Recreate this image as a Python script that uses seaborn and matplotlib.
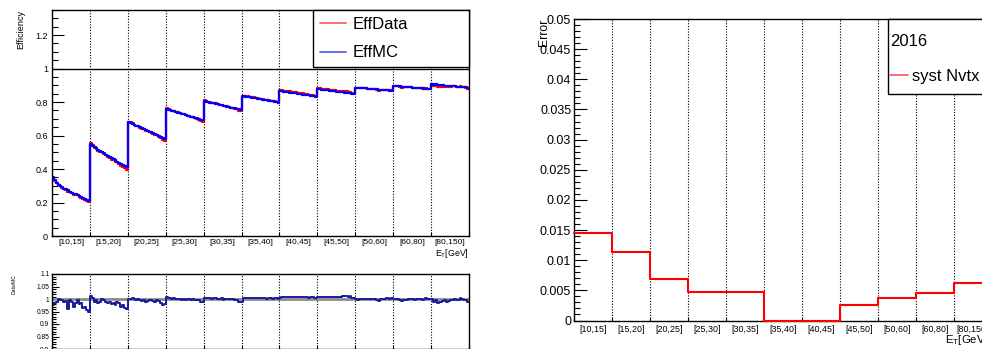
import numpy as np
import pandas as pd
import seaborn as sns
import matplotlib
matplotlib.use('Agg')
import matplotlib.pyplot as plt
from matplotlib.lines import Line2D
from matplotlib.patches import Rectangle
from matplotlib.ticker import MultipleLocator, FixedLocator, FixedFormatter, NullFormatter, FuncFormatter

# ========================================== DATA ==========================================

et_bins = ['[10,15]', '[15,20]', '[20,25]', '[25,30]', '[30,35]', '[35,40]',
           '[40,45]', '[45,50]', '[50,60]', '[60,80]', '[80,150]']

# MC efficiency, 20 eta sub-bins inside each E_T bin
eff_mc = [
    [0.352, 0.335, 0.318, 0.305, 0.298, 0.290, 0.283, 0.278, 0.272, 0.262, 0.258, 0.253, 0.248, 0.243, 0.238, 0.232, 0.226, 0.221, 0.216, 0.211],
    [0.548, 0.540, 0.532, 0.524, 0.516, 0.508, 0.500, 0.493, 0.486, 0.478, 0.471, 0.465, 0.458, 0.451, 0.445, 0.438, 0.432, 0.425, 0.418, 0.412],
    [0.682, 0.677, 0.671, 0.666, 0.660, 0.655, 0.650, 0.645, 0.640, 0.634, 0.629, 0.624, 0.619, 0.614, 0.609, 0.604, 0.598, 0.593, 0.588, 0.582],
    [0.758, 0.754, 0.751, 0.747, 0.744, 0.740, 0.737, 0.733, 0.730, 0.726, 0.723, 0.719, 0.716, 0.712, 0.709, 0.705, 0.702, 0.698, 0.694, 0.690],
    [0.806, 0.803, 0.800, 0.797, 0.795, 0.792, 0.789, 0.787, 0.784, 0.781, 0.778, 0.776, 0.773, 0.770, 0.767, 0.765, 0.762, 0.759, 0.756, 0.752],
    [0.836, 0.834, 0.832, 0.830, 0.828, 0.826, 0.824, 0.822, 0.820, 0.818, 0.816, 0.814, 0.812, 0.810, 0.808, 0.806, 0.804, 0.802, 0.799, 0.796],
    [0.866, 0.864, 0.862, 0.861, 0.859, 0.857, 0.855, 0.854, 0.852, 0.850, 0.848, 0.847, 0.845, 0.843, 0.841, 0.840, 0.838, 0.836, 0.834, 0.832],
    [0.877, 0.876, 0.874, 0.873, 0.871, 0.870, 0.868, 0.867, 0.865, 0.864, 0.862, 0.861, 0.859, 0.858, 0.856, 0.855, 0.853, 0.852, 0.850, 0.848],
    [0.887, 0.886, 0.885, 0.884, 0.883, 0.882, 0.881, 0.880, 0.879, 0.878, 0.877, 0.876, 0.875, 0.874, 0.873, 0.872, 0.871, 0.870, 0.869, 0.868],
    [0.897, 0.896, 0.895, 0.894, 0.893, 0.892, 0.891, 0.890, 0.889, 0.888, 0.887, 0.886, 0.885, 0.884, 0.883, 0.882, 0.881, 0.880, 0.879, 0.877],
    [0.905, 0.904, 0.906, 0.903, 0.902, 0.901, 0.900, 0.899, 0.898, 0.897, 0.896, 0.895, 0.894, 0.893, 0.892, 0.891, 0.890, 0.889, 0.888, 0.887],
]

# Data / MC ratio in the same sub-bins
ratio = [
    [0.975, 0.985, 0.990, 1.000, 0.998, 0.995, 0.990, 0.993, 0.960, 0.995, 0.990, 0.970, 0.985, 0.998, 0.980, 0.985, 0.965, 0.970, 0.955, 0.950],
    [1.012, 1.005, 0.990, 0.995, 0.985, 0.990, 1.000, 0.995, 0.990, 0.985, 0.990, 0.980, 0.985, 0.975, 0.990, 0.985, 0.970, 0.975, 0.965, 0.960],
    [1.000, 1.002, 1.003, 1.000, 0.998, 1.000, 0.995, 0.993, 0.997, 0.990, 0.993, 0.995, 0.998, 0.992, 0.990, 0.995, 0.992, 0.985, 0.975, 0.980],
    [1.007, 1.005, 1.003, 1.002, 1.004, 1.000, 1.002, 1.001, 0.998, 1.000, 0.997, 1.001, 0.999, 0.996, 1.000, 0.998, 0.995, 0.997, 0.990, 0.990],
    [1.005, 1.004, 1.003, 1.005, 1.002, 1.003, 1.004, 1.002, 1.001, 1.003, 0.998, 1.000, 1.002, 1.000, 0.999, 1.001, 0.998, 0.997, 0.990, 0.990],
    [0.990, 1.003, 1.004, 1.005, 1.003, 1.004, 1.006, 1.005, 1.004, 1.003, 1.005, 1.004, 1.003, 1.002, 1.004, 1.003, 1.002, 1.004, 1.003, 1.002],
    [1.006, 1.007, 1.008, 1.007, 1.008, 1.009, 1.008, 1.007, 1.009, 1.008, 1.007, 1.008, 1.009, 1.008, 1.007, 1.006, 1.008, 1.007, 1.006, 1.005],
    [1.007, 1.008, 1.007, 1.009, 1.008, 1.007, 1.008, 1.009, 1.010, 1.008, 1.007, 1.009, 1.010, 1.012, 1.011, 1.013, 1.010, 1.012, 1.006, 1.004],
    [1.000, 0.998, 0.999, 1.000, 1.001, 1.000, 0.999, 1.001, 1.002, 1.001, 1.000, 0.998, 0.992, 1.000, 1.001, 1.002, 1.004, 1.003, 1.002, 1.003],
    [1.002, 1.000, 1.001, 0.995, 0.993, 0.996, 0.997, 0.998, 0.999, 1.000, 0.999, 0.998, 1.002, 0.999, 1.000, 0.998, 1.001, 1.003, 1.002, 1.001],
    [1.002, 0.990, 0.995, 0.985, 0.990, 0.987, 0.992, 0.995, 0.990, 0.993, 0.996, 0.998, 1.000, 0.995, 0.997, 1.003, 1.000, 0.998, 0.995, 0.990],
]

syst_nvtx = [0.0145, 0.0114, 0.0068, 0.0048, 0.0048, 0.0, 0.0, 0.0026, 0.0037, 0.0045, 0.0062]

# ========================================== STYLE ==========================================

sns.set_style('ticks')
plt.rcParams['font.family'] = ['Liberation Sans', 'DejaVu Sans']
plt.rcParams['mathtext.fontset'] = 'custom'
plt.rcParams['mathtext.rm'] = 'Liberation Sans'
plt.rcParams['mathtext.it'] = 'Liberation Sans'
for key in ['text.color', 'axes.labelcolor', 'xtick.color', 'ytick.color', 'axes.edgecolor']:
    plt.rcParams[key] = 'black'
plt.rcParams['axes.linewidth'] = 1.0

W, H = 982, 349
fig = plt.figure(figsize=(W / 100, H / 100), dpi=100)

def px_axes(x0, y0, x1, y1):
    return fig.add_axes([x0 / W, 1 - y1 / H, (x1 - x0) / W, (y1 - y0) / H])

ax_eff = px_axes(52, 10, 469, 236)
ax_ratio = px_axes(52, 274, 469, 349)
ax_syst = px_axes(574, 19, 992, 320.5)

n_bins = len(et_bins)
n_sub = len(eff_mc[0])
root_fmt = FuncFormatter(lambda v, p: f'{round(v, 5):g}')

def bin_axis(ax, label_size, label_pad, show_labels=True):
    ax.set_xlim(0, n_bins)
    ax.xaxis.set_major_locator(FixedLocator(range(n_bins + 1)))
    ax.xaxis.set_major_formatter(NullFormatter())
    ax.xaxis.set_minor_locator(FixedLocator(np.arange(n_bins) + 0.5))
    ax.xaxis.set_minor_formatter(FixedFormatter(et_bins if show_labels else [''] * n_bins))
    ax.tick_params(axis='x', which='major', direction='in', length=3, width=0.8)
    ax.tick_params(axis='x', which='minor', length=0, labelsize=label_size, pad=label_pad)
    for b in range(1, n_bins):
        ax.axvline(b, color='black', ls=(0, (1, 1.5)), lw=0.8, zorder=1)
    for s in ax.spines.values():
        s.set_visible(True)

# ========================================== EFFICIENCY PANEL ==========================================

x_sub = np.arange(n_bins * n_sub) / n_sub
x_step = np.append(x_sub, n_bins)
mc_flat = np.concatenate(eff_mc)
ratio_flat = np.concatenate(ratio)
data_flat = mc_flat * ratio_flat

df_eff = pd.DataFrame({
    'x': np.tile(x_step, 2),
    'eff': np.concatenate([np.append(data_flat, data_flat[-1]), np.append(mc_flat, mc_flat[-1])]),
    'series': ['EffData'] * len(x_step) + ['EffMC'] * len(x_step),
})
sns.lineplot(data=df_eff, x='x', y='eff', hue='series', hue_order=['EffData', 'EffMC'],
             palette={'EffData': '#ff0000', 'EffMC': '#0000ff'}, drawstyle='steps-post',
             estimator=None, sort=False, lw=1.6, legend=False, ax=ax_eff)
ax_eff.axhline(1.0, color='black', lw=1.0)
ax_eff.set_ylim(0, 1.35)
ax_eff.yaxis.set_major_locator(MultipleLocator(0.2))
ax_eff.yaxis.set_minor_locator(MultipleLocator(0.05))
ax_eff.yaxis.set_major_formatter(root_fmt)
ax_eff.tick_params(axis='y', which='major', direction='in', length=8.5, width=0.8, labelsize=6.5, pad=3)
ax_eff.tick_params(axis='y', which='minor', direction='in', length=4.3, width=0.8)
bin_axis(ax_eff, 6, 2)
ax_eff.set_ylabel('Efficiency', fontsize=6.6, loc='top')
ax_eff.yaxis.set_label_coords(-0.065, 1.0)
ax_eff.set_xlabel(r'E$_{\mathrm{T}}$[GeV]', fontsize=6.3, loc='right')
ax_eff.xaxis.set_label_coords(1.0, -0.048)

eff_handles = [Line2D([], [], color='#ff5050', lw=1.2), Line2D([], [], color='#5050ff', lw=1.2)]
leg = ax_eff.legend(eff_handles, ['EffData', 'EffMC'], loc='upper left',
                    bbox_to_anchor=(0.626, 0.0, 0.374, 1.0), mode='expand', borderaxespad=0,
                    fontsize=12, frameon=True, fancybox=False, framealpha=1, edgecolor='black',
                    borderpad=0.42, labelspacing=0.8, handlelength=1.56, handletextpad=0.42)
leg.get_frame().set_linewidth(1.0)

# ========================================== RATIO PANEL ==========================================

ax_ratio.axhline(1.0, color='#8c8c8c', lw=2.0, zorder=1.5)
sns.lineplot(x=x_step, y=np.append(ratio_flat, ratio_flat[-1]), drawstyle='steps-post',
             estimator=None, sort=False, color='#1a1a9a', lw=1.4, ax=ax_ratio)
ax_ratio.set_ylim(0.8, 1.1)
ax_ratio.yaxis.set_major_locator(MultipleLocator(0.05))
ax_ratio.yaxis.set_minor_locator(MultipleLocator(0.01))
ax_ratio.yaxis.set_major_formatter(root_fmt)
ax_ratio.tick_params(axis='y', which='major', direction='in', length=5, width=0.8, labelsize=4.8, pad=2)
ax_ratio.tick_params(axis='y', which='minor', direction='in', length=2.8, width=0.8)
bin_axis(ax_ratio, 5, 2, show_labels=False)
ax_ratio.set_xlabel('')
ax_ratio.set_ylabel('Data/MC', fontsize=3.6, loc='top')
ax_ratio.yaxis.set_label_coords(-0.084, 1.0)

# ========================================== SYST PANEL ==========================================

sns.lineplot(x=np.arange(n_bins + 1), y=np.append(syst_nvtx, syst_nvtx[-1]), drawstyle='steps-post',
             estimator=None, sort=False, color='#ff0000', lw=1.5, ax=ax_syst, zorder=3, clip_on=False)
ax_syst.set_ylim(0, 0.05)
ax_syst.yaxis.set_major_locator(MultipleLocator(0.005))
ax_syst.yaxis.set_minor_locator(MultipleLocator(0.001))
ax_syst.yaxis.set_major_formatter(root_fmt)
ax_syst.tick_params(axis='y', which='major', direction='in', length=9, width=0.8, labelsize=9, pad=2)
ax_syst.tick_params(axis='y', which='minor', direction='in', length=4.5, width=0.8)
bin_axis(ax_syst, 6.4, 3.5)
ax_syst.set_ylabel('Error', fontsize=8.7, loc='top')
ax_syst.yaxis.set_label_coords(-0.057, 1.0)
ax_syst.set_xlabel(r'E$_{\mathrm{T}}$[GeV]', fontsize=8.2, loc='right')
ax_syst.xaxis.set_label_coords(0.99, -0.04)

fig.add_artist(Rectangle((888 / W, 1 - 94 / H), 120 / W, 75 / H, transform=fig.transFigure,
                         facecolor='white', edgecolor='black', lw=1.0, zorder=4))
leg2 = fig.legend([Line2D([], [], color='#ff5050', lw=1.2)], ['syst Nvtx'], title='2016',
                  title_fontsize=12, fontsize=12, alignment='left', loc='upper left',
                  bbox_to_anchor=(890 / W, 1 - 34 / H), frameon=False, borderpad=0,
                  borderaxespad=0, labelspacing=1.22, handlelength=1.1, handletextpad=0.25)
leg2.set_zorder(5)

fig.savefig('out.png', dpi=100)
